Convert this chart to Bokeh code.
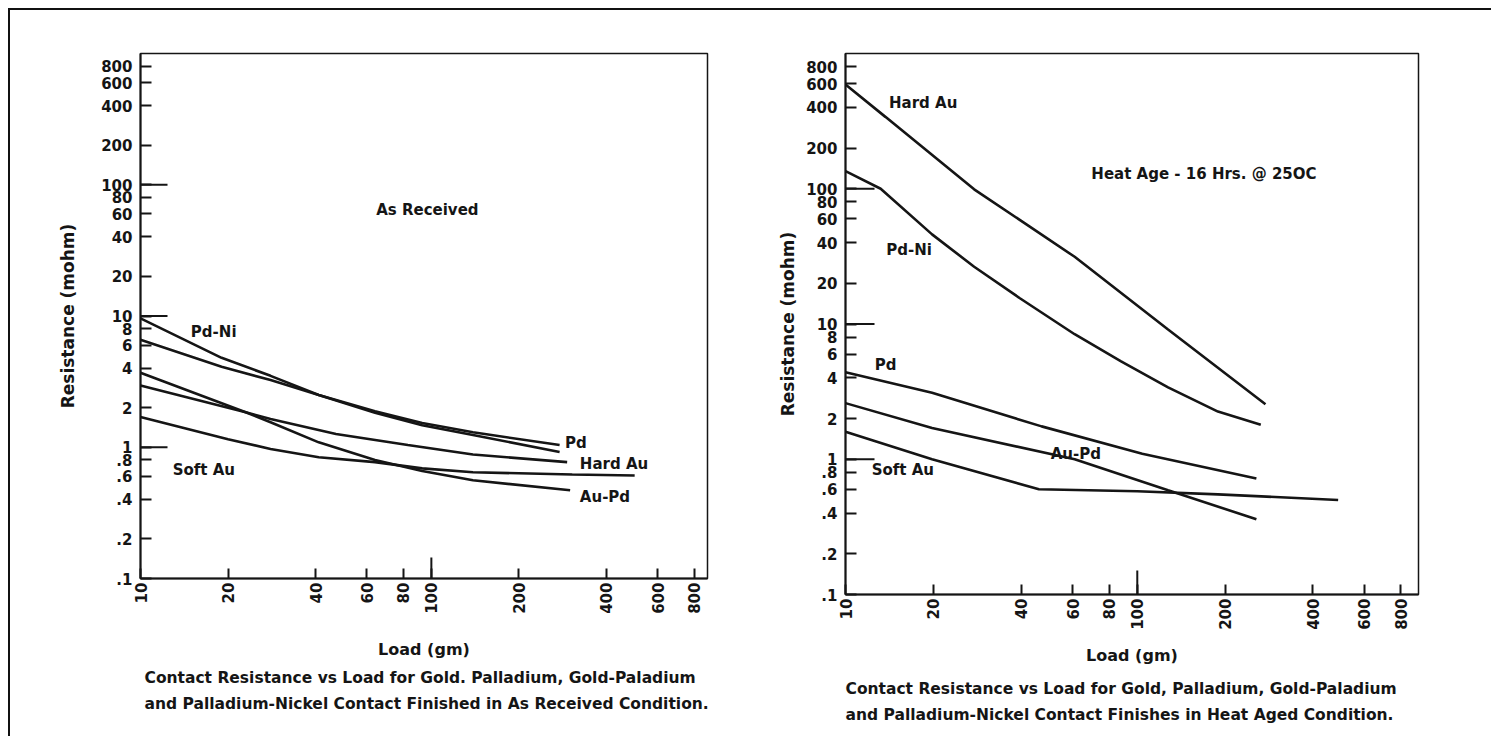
import math
from bokeh.plotting import figure
from bokeh.layouts import row
from bokeh.models import FixedTicker, Range1d, Title
from bokeh.embed import file_html
from bokeh.resources import INLINE
from bokeh.core.properties import value

# ---------------- axis ticks ----------------
LOAD_TICKS = [10, 20, 40, 60, 80, 100, 200, 400, 600, 800]
LOAD_TICK_LABELS = ["10", "20", "40", "60", "80", "100", "200", "400", "600", "800"]
RES_TICKS = [0.1, 0.2, 0.4, 0.6, 0.8, 1, 2, 4, 6, 8, 10, 20, 40, 60, 80, 100, 200, 400, 600, 800]
RES_TICK_LABELS = [".1", ".2", ".4", ".6", ".8", "1", "2", "4", "6", "8", "10",
                   "20", "40", "60", "80", "100", "200", "400", "600", "800"]
LONG_RES_TICKS = [1, 10, 100]
LONG_LOAD_TICKS = [100]

# ---------------- panel 1: As Received ----------------
ar_pdni_load = [10, 19, 28, 41, 64, 93, 139, 276]
ar_pdni_res = [9.6, 4.8, 3.5, 2.5, 1.83, 1.47, 1.24, 0.92]
ar_pd_load = [10, 19, 28, 41, 64, 93, 139, 276]
ar_pd_res = [6.6, 4.1, 3.25, 2.5, 1.88, 1.53, 1.3, 1.04]
ar_hardau_load = [10, 23, 28, 47, 83, 139, 293]
ar_hardau_res = [2.95, 1.85, 1.64, 1.26, 1.04, 0.88, 0.77]
ar_aupd_load = [10, 23, 28, 41, 64, 93, 139, 300]
ar_aupd_res = [3.7, 1.85, 1.55, 1.09, 0.8, 0.66, 0.56, 0.47]
ar_softau_load = [10, 20, 28, 41, 64, 93, 139, 305, 500]
ar_softau_res = [1.7, 1.15, 0.97, 0.84, 0.77, 0.69, 0.645, 0.62, 0.61]

# ---------------- panel 2: Heat Aged ----------------
ha_hardau_load = [10, 13.7, 27.6, 61, 127.5, 275]
ha_hardau_res = [590, 340, 99, 31.4, 9.1, 2.55]
ha_pdni_load = [10, 13.2, 19.8, 27.6, 39.6, 61, 88, 127.5, 189, 265]
ha_pdni_res = [135, 100, 46, 26.5, 15.5, 8.4, 5.3, 3.4, 2.25, 1.8]
ha_pd_load = [10, 19.8, 47, 104, 256]
ha_pd_res = [4.4, 3.1, 1.75, 1.1, 0.72]
ha_aupd_load = [10, 19.8, 61, 127.5, 256]
ha_aupd_res = [2.6, 1.7, 1.0, 0.59, 0.36]
ha_softau_load = [10, 19.8, 46, 100, 189, 488]
ha_softau_res = [1.6, 1.0, 0.6, 0.58, 0.55, 0.5]

# ---------------- texts ----------------
ar_label_text = ["As Received", "Pd-Ni", "Soft Au", "Pd", "Hard Au", "Au-Pd"]
ar_label_load = [64.6, 14.9, 12.9, 288, 324, 324]
ar_label_res = [64, 7.5, 0.67, 1.07, 0.74, 0.42]
ha_label_text = ["Hard Au", "Heat Age - 16 Hrs. @ 25OC", "Pd-Ni", "Pd", "Au-Pd", "Soft Au"]
ha_label_load = [14.1, 69.6, 13.8, 12.6, 50.5, 12.3]
ha_label_res = [430, 128, 35, 5.0, 1.1, 0.83]
ar_caption = ["Contact Resistance vs Load for Gold.  Palladium, Gold-Paladium",
              "and Palladium-Nickel Contact Finished in As Received Condition."]
ha_caption = ["Contact Resistance vs Load for Gold, Palladium, Gold-Paladium",
              "and Palladium-Nickel Contact Finishes in Heat Aged Condition."]
X_LABEL = "Load (gm)"
Y_LABEL = "Resistance (mohm)"

INK = "#151515"
FONT = "DejaVu Sans"


def make_panel(series, lab_x, lab_y, lab_t, caption, width, height, xmax, ymax,
               mb_left, mb_right, mb_top, mb_bottom, ylab_standoff, xlab_standoff,
               cap_standoff, cap_offset, long_tick, xlong_tick):
    p = figure(width=width, height=height, x_axis_type="log", y_axis_type="log",
               x_range=Range1d(10, xmax), y_range=Range1d(0.1, ymax),
               output_backend="svg", toolbar_location=None,
               min_border_left=mb_left, min_border_right=mb_right,
               min_border_top=mb_top, min_border_bottom=mb_bottom)
    p.grid.visible = False
    p.outline_line_color = INK
    p.outline_line_width = 1.5
    p.background_fill_color = "white"
    p.border_fill_color = "white"

    p.xaxis.ticker = FixedTicker(ticks=LOAD_TICKS, minor_ticks=[])
    p.xaxis.major_label_overrides = {t: s for t, s in zip(LOAD_TICKS, LOAD_TICK_LABELS)}
    p.yaxis.ticker = FixedTicker(ticks=RES_TICKS, minor_ticks=[])
    p.yaxis.major_label_overrides = {t: s for t, s in zip(RES_TICKS, RES_TICK_LABELS)}
    p.xaxis.major_label_orientation = math.pi / 2
    for ax in (p.xaxis, p.yaxis):
        ax.axis_line_color = INK
        ax.axis_line_width = 2
        ax.major_tick_line_color = INK
        ax.major_tick_line_width = 2
        ax.major_tick_out = 0
        ax.minor_tick_in = 0
        ax.minor_tick_out = 0
        ax.major_label_text_font = FONT
        ax.major_label_text_font_style = "bold"
        ax.major_label_text_font_size = "15px"
        ax.major_label_text_color = INK
        ax.axis_label_text_font = FONT
        ax.axis_label_text_font_style = "bold"
        ax.axis_label_text_color = INK
    p.xaxis.axis_label_text_font_size = "16px"
    p.yaxis.axis_label_text_font_size = "17px"
    p.yaxis.major_tick_in = 11
    p.xaxis.major_tick_in = 10
    p.yaxis.major_label_standoff = 8
    p.xaxis.major_label_standoff = 4
    p.yaxis.axis_label = Y_LABEL
    p.xaxis.axis_label = X_LABEL
    p.yaxis.axis_label_standoff = ylab_standoff
    p.xaxis.axis_label_standoff = xlab_standoff

    # longer ticks at 1, 10, 100 (and at load 100)
    p.scatter(x=[10] * len(LONG_RES_TICKS), y=LONG_RES_TICKS, marker="dash",
              size=2 * long_tick, line_color=INK, line_width=2)
    p.scatter(x=LONG_LOAD_TICKS, y=[0.1] * len(LONG_LOAD_TICKS), marker="dash",
              angle=math.pi / 2, size=2 * xlong_tick, line_color=INK, line_width=2)

    for xs, ys in series:
        p.line(xs, ys, line_color=INK, line_width=2.6)

    p.text(x=lab_x, y=lab_y, text=lab_t, text_font=value(FONT), text_font_style="bold",
           text_font_size="15px", text_color=INK, text_baseline="middle", text_align="left")

    p.add_layout(Title(text="\n".join(caption), align="left", offset=cap_offset,
                       standoff=cap_standoff, text_line_height=1.45,
                       text_font=FONT, text_font_style="bold", text_font_size="15.5px",
                       text_color=INK), "below")
    return p


p1 = make_panel(
    [(ar_pdni_load, ar_pdni_res), (ar_pd_load, ar_pd_res), (ar_hardau_load, ar_hardau_res),
     (ar_aupd_load, ar_aupd_res), (ar_softau_load, ar_softau_res)],
    ar_label_load, ar_label_res, ar_label_text, ar_caption,
    width=760, height=710, xmax=890, ymax=1000,
    mb_left=130, mb_right=63, mb_top=43, mb_bottom=142,
    ylab_standoff=20, xlab_standoff=23, cap_standoff=12, cap_offset=4,
    long_tick=27, xlong_tick=21)

p2 = make_panel(
    [(ha_hardau_load, ha_hardau_res), (ha_pdni_load, ha_pdni_res), (ha_pd_load, ha_pd_res),
     (ha_aupd_load, ha_aupd_res), (ha_softau_load, ha_softau_res)],
    ha_label_load, ha_label_res, ha_label_text, ha_caption,
    width=721, height=726, xmax=920, ymax=1000,
    mb_left=75, mb_right=73, mb_top=43, mb_bottom=142,
    ylab_standoff=5, xlab_standoff=13, cap_standoff=21, cap_offset=0,
    long_tick=29, xlong_tick=24)

layout = row(p1, p2, styles={"margin-left": "8px", "margin-top": "8px",
                             "border-top": "2px solid #111", "border-left": "2px solid #111"})

open("out.html", "w").write(file_html(layout, INLINE))
